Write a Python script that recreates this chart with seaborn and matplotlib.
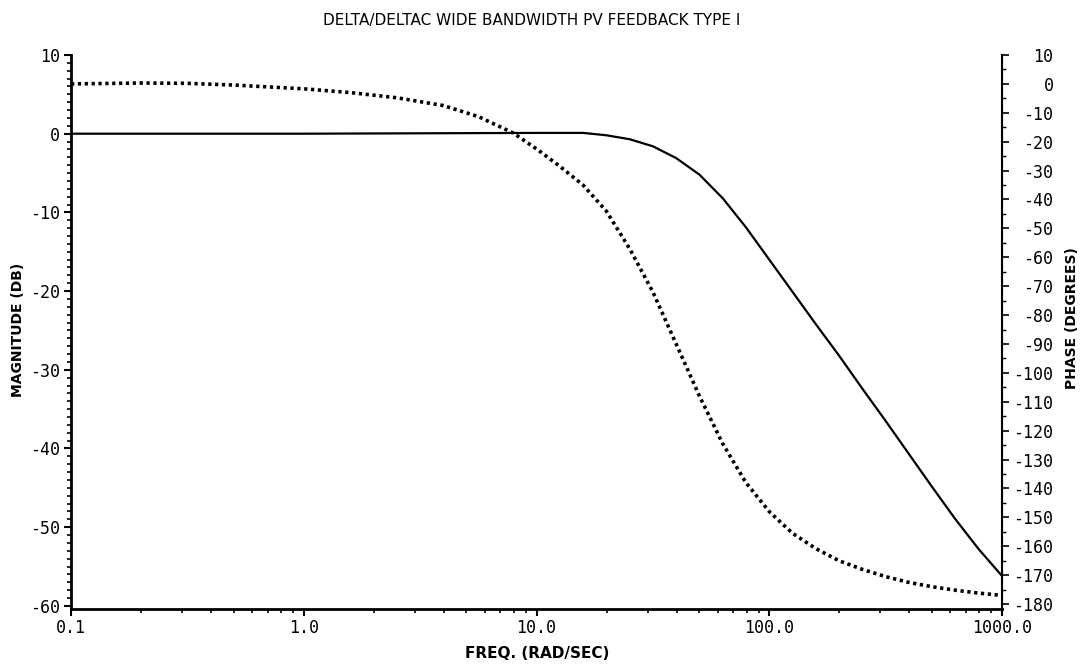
import numpy as np
import pandas as pd
import matplotlib
matplotlib.use("Agg")
import matplotlib.pyplot as plt
import matplotlib.ticker as mticker
import seaborn as sns

# ---- data ----
freq_mag = [0.1, 1.0, 10.0, 15.85, 19.95, 25.12, 31.62, 39.81, 50.12, 63.1,
            79.43, 100.0, 125.9, 158.5, 199.5, 251.2, 316.2, 398.1, 501.2,
            631.0, 794.3, 1000.0]
mag_db = [0.0, 0.0, 0.1, 0.1, -0.2, -0.7, -1.6, -3.1, -5.2, -8.2,
          -11.9, -16.0, -20.1, -24.2, -28.2, -32.4, -36.5, -40.7, -44.9,
          -49.0, -52.8, -56.2]

freq_ph = [0.1, 0.2, 0.316, 0.5, 1.0, 1.585, 2.512, 3.981, 5.623, 7.943,
           10.0, 12.59, 15.85, 19.95, 25.12, 31.62, 39.81, 50.12, 63.1,
           79.43, 100.0, 125.9, 158.5, 199.5, 251.2, 316.2, 398.1, 501.2,
           631.0, 794.3, 1000.0]
phase_deg = [0.0, 0.3, 0.2, -0.4, -1.7, -3.0, -4.8, -7.5, -11.3, -17.0,
             -22.5, -28.5, -35.0, -44.0, -57.0, -72.0, -90.0, -108.0, -124.5,
             -138.0, -148.0, -155.5, -160.8, -165.0, -168.0, -170.5, -172.5,
             -174.0, -175.2, -176.2, -177.0]

x_ticks = [0.1, 1.0, 10.0, 100.0, 1000.0]
x_tick_labels = ["0.1", "1.0", "10.0", "100.0", "1000.0"]
mag_ticks = [10, 0, -10, -20, -30, -40, -50, -60]
phase_ticks = list(range(10, -181, -10))

title = "DELTA/DELTAC WIDE BANDWIDTH PV FEEDBACK TYPE I"

sns.set_style("ticks")
plt.rcParams["font.family"] = ["DejaVu Sans"]
plt.rcParams["text.color"] = "black"
plt.rcParams["axes.edgecolor"] = "black"
plt.rcParams["xtick.color"] = "black"
plt.rcParams["ytick.color"] = "black"
plt.rcParams["axes.labelcolor"] = "black"

fig = plt.figure(figsize=(10.86, 6.71), dpi=100)
ax = fig.add_axes([71 / 1086, 1 - 609 / 671, (1002 - 71) / 1086, (609 - 55) / 671])
ax2 = ax.twinx()

df_mag = pd.DataFrame({"freq": freq_mag, "mag": mag_db})
df_ph = pd.DataFrame({"freq": freq_ph, "phase": phase_deg})

sns.lineplot(data=df_mag, x="freq", y="mag", ax=ax, color="black", linewidth=1.6,
             sort=False)
sns.lineplot(data=df_ph, x="freq", y="phase", ax=ax2, color="black", linewidth=2.6,
             sort=False)
for ln in ax2.get_lines():
    ln.set_linestyle((0, (0.9, 1.0)))

ax.set_xscale("log")
ax.set_xlim(0.1, 1000)
ax.set_ylim(-60.4, 10)
ax2.set_ylim(-181.7, 10)

ax.set_xticks(x_ticks)
ax.set_xticklabels(x_tick_labels)
ax.xaxis.set_minor_locator(mticker.LogLocator(base=10, subs=np.arange(2, 10)))
ax.xaxis.set_minor_formatter(mticker.NullFormatter())
ax.set_yticks(mag_ticks)
ax.set_yticklabels([str(v) for v in mag_ticks])
ax.yaxis.set_minor_locator(mticker.MultipleLocator(1))
ax2.set_yticks(phase_ticks)
ax2.set_yticklabels([str(v) for v in phase_ticks])
ax2.yaxis.set_minor_locator(mticker.MultipleLocator(5))

for lab in ax.get_xticklabels() + ax.get_yticklabels() + ax2.get_yticklabels():
    lab.set_fontfamily("DejaVu Sans Mono")
    lab.set_fontsize(12)
    lab.set_color("black")
for lab in ax2.get_yticklabels():
    lab.set_horizontalalignment("right")

ax.tick_params(axis="y", which="major", direction="out", length=5, width=1.5, pad=3)
ax.tick_params(axis="y", which="minor", direction="out", length=3, width=1.2)
ax.tick_params(axis="x", which="major", direction="out", length=5, width=1.5, pad=2.5)
ax.tick_params(axis="x", which="minor", direction="out", length=3, width=1.2)
ax2.tick_params(axis="y", which="major", direction="out", length=5, width=1.2, pad=32)
ax2.tick_params(axis="y", which="minor", direction="out", length=3, width=1.0)

for a in (ax, ax2):
    a.spines["top"].set_visible(False)
    a.set_xlabel("")
    a.set_ylabel("")
    a.grid(False)
ax.spines["left"].set_linewidth(2.0)
ax.spines["bottom"].set_linewidth(2.0)
ax2.spines["right"].set_linewidth(1.5)
ax2.spines["left"].set_visible(False)
ax2.spines["bottom"].set_visible(False)

fig.text(532 / 1086, 1 - 20 / 671, title, ha="center", va="center", fontsize=11,
         color="black")
fig.text(537 / 1086, 1 - 654 / 671, "FREQ. (RAD/SEC)", ha="center", va="center",
         fontsize=11, fontweight="bold", color="black")
fig.text(18 / 1086, 1 - 330 / 671, "MAGNITUDE (DB)", ha="center", va="center",
         rotation=90, fontsize=10, fontweight="bold", color="black")
fig.text(1072 / 1086, 1 - 318 / 671, "PHASE (DEGREES)", ha="center", va="center",
         rotation=90, fontsize=10, fontweight="bold", color="black")

fig.savefig("out.png", dpi=100, facecolor="white")
